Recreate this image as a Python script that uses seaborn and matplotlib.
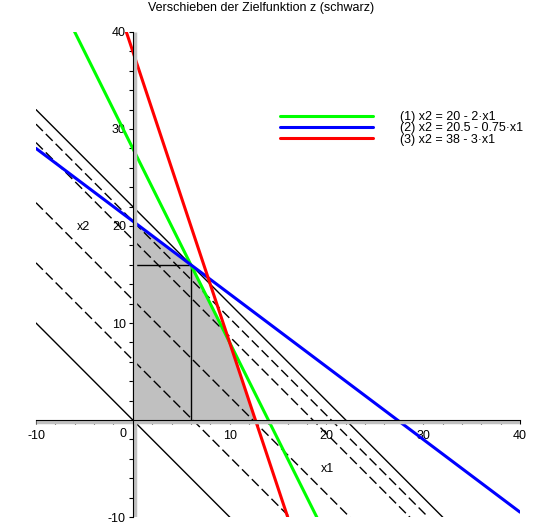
import numpy as np
import pandas as pd
import matplotlib
matplotlib.use("Agg")
import matplotlib.pyplot as plt
from matplotlib.transforms import offset_copy
import seaborn as sns

# constraint lines x2 = b + m*x1
line_labels = ["(1) x2 = 20 - 2·x1", "(2) x2 = 20.5 - 0.75·x1", "(3) x2 = 38 - 3·x1"]
line_intercepts = [28.0, 20.5, 38.0]
line_slopes = [-2.0, -0.75, -3.0]
line_colors = ["#00ff00", "#0000ff", "#ff0000"]

# objective z = x1 + x2 shifted through several levels
z_levels = [0.0, 6.2, 12.4, 18.6, 20.5, 22.0]
z_solid = [True, False, False, False, False, True]

x_range = [-10, 40]
optimum = (6.0, 16.0)

title = "Verschieben der Zielfunktion z (schwarz)"

sns.set_style("white")
plt.rcParams["font.family"] = ["Liberation Sans", "DejaVu Sans"]
plt.rcParams["text.color"] = "black"
plt.rcParams["xtick.color"] = "black"
plt.rcParams["ytick.color"] = "black"
plt.rcParams["axes.unicode_minus"] = False

fig = plt.figure(figsize=(5.56, 5.26), dpi=100)
ax = fig.add_axes([36 / 556, 9 / 526, 484 / 556, 485 / 526])


def intersect(b1, m1, b2, m2):
    x = (b2 - b1) / (m1 - m2)
    return x, b1 + m1 * x


# feasible region: x1>=0, x2>=0, below all three lines
b1, b2, b3 = line_intercepts
m1, m2, m3 = line_slopes
verts = [(0, 0), (0, b2), intersect(b2, m2, b1, m1), intersect(b1, m1, b3, m3), (-b3 / m3, 0)]
ax.fill([v[0] for v in verts], [v[1] for v in verts], color="#c0c0c0", lw=0, zorder=1)

# objective lines
for z, solid in zip(z_levels, z_solid):
    df = pd.DataFrame({"x1": x_range, "x2": [z - x for x in x_range]})
    sns.lineplot(data=df, x="x1", y="x2", ax=ax, color="black", lw=1.0,
                 linestyle="-" if solid else (0, (7, 3)), zorder=3)

# vertical / horizontal helper lines at the optimum
ax.plot([0, optimum[0]], [optimum[1], optimum[1]], color="black", lw=1.0, zorder=3)
ax.plot([optimum[0], optimum[0]], [0, optimum[1]], color="black", lw=1.0, zorder=3)

# constraint lines
for lab, b, m, c in zip(line_labels, line_intercepts, line_slopes, line_colors):
    df = pd.DataFrame({"x1": x_range, "x2": [b + m * x for x in x_range]})
    sns.lineplot(data=df, x="x1", y="x2", ax=ax, color=c, lw=2.2, label=lab, zorder=4)

ax.set_xlim(-10, 40)
ax.set_ylim(-10, 40)

# Maple-like axes through the origin with a grey shadow
for s in ["top", "right"]:
    ax.spines[s].set_visible(False)
for s in ["left", "bottom"]:
    ax.spines[s].set_position(("data", 0))
    ax.spines[s].set_color("black")
    ax.spines[s].set_linewidth(0.8)
    ax.spines[s].set_zorder(6)
ax.plot([0, 1], [0, 0], color="#c0c0c0", lw=2.5, zorder=5, solid_capstyle="butt",
        transform=offset_copy(ax.get_yaxis_transform(), fig=fig, y=-2, units="dots"))
ax.plot([0, 0], [0, 1], color="#c0c0c0", lw=2.5, zorder=5, solid_capstyle="butt",
        transform=offset_copy(ax.get_xaxis_transform(), fig=fig, x=2, units="dots"))

ax.set_xticks([-10, 10, 20, 30, 40])
ax.set_yticks([-10, 10, 20, 30, 40])
ax.set_xticks(np.arange(-10, 41, 2), minor=True)
ax.set_yticks(np.arange(-10, 41, 2), minor=True)
ax.tick_params(which="both", direction="out", length=3, width=0.8, color="black",
               bottom=True, left=True, labelsize=9, pad=2, labelcolor="black")
ax.tick_params(axis="x", which="major", pad=4)
ax.text(-1.0, -1.4, "0", fontsize=9, ha="center", va="center")
ax.set_xlabel("")
ax.set_ylabel("")

ax.text(20.1, -5.05, "x1", fontsize=9, ha="center", va="center")
ax.text(-5.06, 19.85, "x2", fontsize=9, ha="center", va="center")

fig.text(261 / 556, 1 - 8 / 526, title, fontsize=9, ha="center", va="center")

leg = ax.legend(loc="upper left", bbox_to_anchor=(280 / 556, 1 - 111 / 526),
                bbox_transform=fig.transFigure, frameon=False, fontsize=9,
                handlelength=7.4, handletextpad=2.2, labelspacing=-0.05,
                borderpad=0, borderaxespad=0)
for h in leg.get_lines():
    h.set_linewidth(2.2)

fig.savefig("out.png", dpi=100)
